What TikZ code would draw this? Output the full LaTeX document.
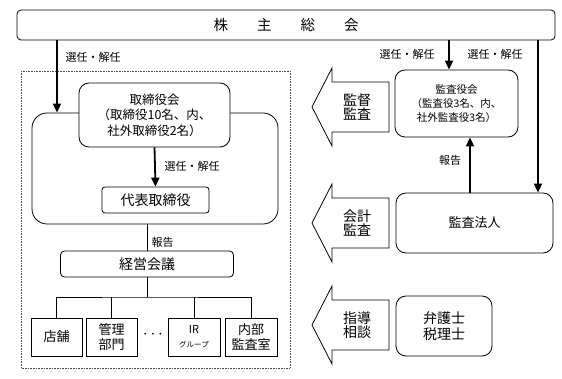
\documentclass[tikz,border=0pt]{standalone}
\usepackage{fontspec}
\setmainfont{Noto Sans CJK JP}
\usepackage{tikz}
\usetikzlibrary{arrows.meta,calc}
\tikzset{
  box/.style={draw,line width=0.8pt,rounded corners=#1,inner sep=0pt,fill=white,align=center},
  box/.default=4pt,
  conn/.style={line width=0.8pt},
  thickarr/.style={-{Triangle[length=9pt,width=8pt]},line width=1.8pt},
  lbl/.style={font=\fontsize{11}{13}\selectfont}
}

\begin{document}
\begin{tikzpicture}[x=1pt,y=-1pt]
\useasboundingbox (0,0) rectangle (562,379);
\node[box,minimum width=538pt,minimum height=30pt,font=\fontsize{14.5}{16}\selectfont] (gm) at (286,25) {株　　主　　総　　会};
% company side
\draw[densely dotted,line width=0.6pt,black!70] (21,71) rectangle (290,368);
\node[box=15pt,minimum width=246pt,minimum height=111pt] (board) at (155,168.5) {};
\node[box=10pt,minimum width=151pt,minimum height=64pt,font=\fontsize{12.5}{15.5}\selectfont] (bod) at (154.5,115) {取締役会\\（取締役10名、内、\\社外取締役2名）};
\node[box=3pt,minimum width=107pt,minimum height=26pt,font=\fontsize{14}{16}\selectfont] (rep) at (155.5,200) {代表取締役};
\node[box,minimum width=173pt,minimum height=26pt,font=\fontsize{14}{16}\selectfont] (mtg) at (147,264) {経営会議};
\node[box=0pt,minimum width=51pt,minimum height=38pt,font=\fontsize{13}{15}\selectfont] (store) at (56.5,337) {店舗};
\node[box=0pt,minimum width=51pt,minimum height=38pt,font=\fontsize{13}{15}\selectfont] (admin) at (111.5,337) {管理\\部門};
\node[font=\fontsize{19}{19}\selectfont] (dots) at (153,335) {$\cdots$};
\node[box=0pt,minimum width=52pt,minimum height=38pt,font=\fontsize{11}{14}\selectfont] (ir) at (194,337) {IR\\{\fontsize{7.5}{9}\selectfont グループ}};
\node[box=0pt,minimum width=52pt,minimum height=38pt,font=\fontsize{13}{15}\selectfont] (internal) at (251,337) {内部\\監査室};
% auditors
\node[box=10pt,minimum width=123pt,minimum height=67pt,font=\fontsize{10.5}{14}\selectfont] (kansa) at (456.5,103.5) {監査役会\\（監査役3名、内、\\社外監査役3名）};
\node[box=10pt,minimum width=157pt,minimum height=60pt,font=\fontsize{13}{16}\selectfont] (firm) at (474.5,223) {監査法人};
\node[box=10pt,minimum width=96pt,minimum height=60pt,font=\fontsize{14}{15.5}\selectfont] (advisor) at (444,326) {弁護士\\税理士};
% selection arrows
\coordinate (colA) at (57,0);
\coordinate (colB) at (449,0);
\coordinate (colC) at (538,0);
\coordinate (colD) at (470,0);
\draw[thickarr] (gm.south -| colA) -- (board.north -| colA);
\draw[thickarr] (bod.south) -- (rep.north);
\draw[thickarr] (gm.south -| colB) -- (kansa.north -| colB);
\draw[thickarr] (gm.south -| colC) -- (firm.north -| colC);
\draw[thickarr] (firm.north -| colD) -- (kansa.south -| colD);
\node[lbl] (selA) at (93,57) {選任・解任};
\node[lbl] (selB) at (192,166) {選任・解任};
\node[lbl] (selC) at (407,54) {選任・解任};
\node[lbl] (selD) at (495,54) {選任・解任};
\node[lbl] (repA) at (162.5,242) {報告};
\node[lbl] (repB) at (450,160) {報告};
% organisation tree
\coordinate (fork) at (147,297);
\draw[conn] (board.south -| mtg.north) -- (mtg.north);
\draw[conn] (mtg.south) -- (fork);
\draw[conn] (store.north) |- (fork) -| (internal.north);
\draw[conn] (admin.north) -- (admin.north |- fork);
\draw[conn] (ir.north) -- (ir.north |- fork);
% block arrows
\foreach \name/\yc/\txt in {supv/107/{監督\\監査},acct/223/{会計\\監査},advc/325/{指導\\相談}}{
  \draw[conn] (389,\yc-25) -- (332,\yc-25) -- (332,\yc-39) -- (312,\yc)
    -- (332,\yc+39) -- (332,\yc+25) -- (389,\yc+25) -- cycle;
  \node[font=\fontsize{14}{14.5}\selectfont,align=center] (\name) at (357,\yc) {\txt};
}
\end{tikzpicture}
\end{document}
